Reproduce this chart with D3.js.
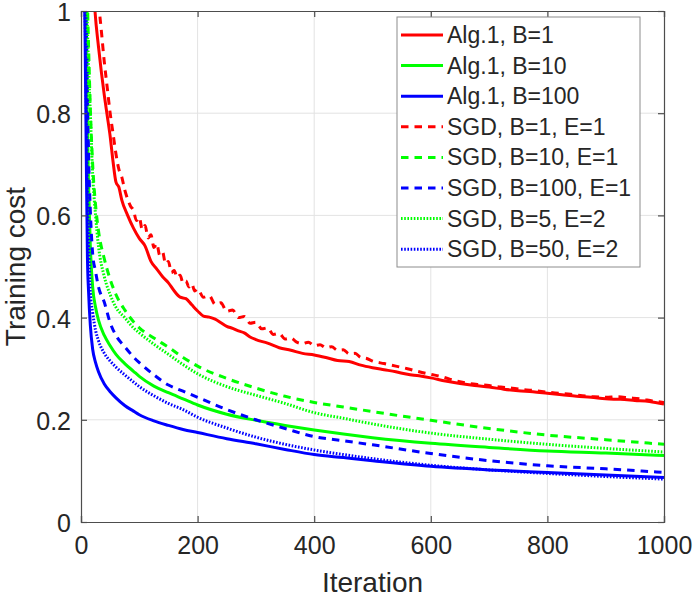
<!DOCTYPE html>
<html>
<head>
<meta charset="utf-8">
<script src="https://cdn.jsdelivr.net/npm/d3@7"></script>
<style>
  body { margin: 0; background: #fff; }
  text { font-family: "Liberation Sans", Arial, sans-serif; fill: #262626; }
</style>
</head>
<body>
<script>

// chart data
var xTicks = [0, 200, 400, 600, 800, 1000];
var yTicks = [0, 0.2, 0.4, 0.6, 0.8, 1];

var itersSmooth = [1, 5, 7, 9, 11, 13, 16, 20, 25, 30, 40, 50, 60, 75, 90, 100, 125, 150, 175, 200, 250, 300, 350, 400, 450, 500, 600, 700, 800, 900, 1000];

var alg1B10 = [1.7, 1.2, 1.05, 0.9, 0.78, 0.66, 0.54, 0.46, 0.42, 0.395, 0.365, 0.345, 0.328, 0.31, 0.295, 0.285, 0.266, 0.253, 0.241, 0.229, 0.211, 0.199, 0.189, 0.18, 0.172, 0.165, 0.154, 0.146, 0.139, 0.135, 0.13];
var alg1B100 = [1.5, 1.1, 0.95, 0.72, 0.52, 0.45, 0.385, 0.338, 0.312, 0.294, 0.27, 0.255, 0.243, 0.228, 0.217, 0.21, 0.198, 0.189, 0.181, 0.175, 0.163, 0.153, 0.142, 0.132, 0.126, 0.12, 0.109, 0.102, 0.097, 0.092, 0.087];
var sgdB10E1 = [2.0, 1.4, 1.25, 1.12, 1.02, 0.93, 0.81, 0.7, 0.62, 0.57, 0.515, 0.475, 0.445, 0.415, 0.392, 0.38, 0.36, 0.342, 0.322, 0.305, 0.281, 0.262, 0.246, 0.234, 0.225, 0.216, 0.199, 0.183, 0.17, 0.161, 0.152];
var sgdB100E1 = [1.7, 1.2, 1.08, 0.98, 0.85, 0.72, 0.61, 0.525, 0.49, 0.46, 0.43, 0.39, 0.365, 0.343, 0.323, 0.312, 0.288, 0.268, 0.256, 0.244, 0.22, 0.2, 0.183, 0.167, 0.159, 0.151, 0.134, 0.12, 0.11, 0.104, 0.097];
var sgdB5E2 = [2.0, 1.3, 1.18, 1.08, 0.97, 0.89, 0.8, 0.68, 0.6, 0.54, 0.48, 0.445, 0.42, 0.4, 0.38, 0.37, 0.348, 0.328, 0.308, 0.29, 0.265, 0.248, 0.232, 0.214, 0.203, 0.192, 0.174, 0.162, 0.152, 0.144, 0.137];
var sgdB50E2 = [1.6, 1.15, 1.0, 0.82, 0.65, 0.55, 0.45, 0.41, 0.375, 0.355, 0.33, 0.315, 0.303, 0.288, 0.274, 0.265, 0.247, 0.232, 0.22, 0.205, 0.184, 0.166, 0.152, 0.141, 0.132, 0.124, 0.111, 0.102, 0.095, 0.089, 0.084];

var itersAlg1B1 = [20, 24, 30, 35, 40, 45, 50, 55, 60, 65, 70, 80, 90, 100, 110, 120, 130, 140, 150, 160, 170, 180, 190, 200, 210, 220, 230, 240, 250, 260, 270, 280, 290, 300, 320, 340, 360, 380, 400, 420, 440, 460, 480, 500, 520, 540, 560, 580, 600, 625, 650, 675, 700, 725, 750, 775, 800, 825, 850, 875, 900, 925, 950, 975, 1000];
var alg1B1 = [1.08, 1.0, 0.93, 0.88, 0.835, 0.795, 0.755, 0.705, 0.665, 0.655, 0.63, 0.6, 0.575, 0.555, 0.54, 0.51, 0.495, 0.48, 0.468, 0.452, 0.44, 0.437, 0.425, 0.413, 0.403, 0.401, 0.397, 0.39, 0.383, 0.379, 0.374, 0.37, 0.362, 0.357, 0.35, 0.341, 0.336, 0.33, 0.327, 0.322, 0.316, 0.314, 0.307, 0.302, 0.298, 0.294, 0.289, 0.286, 0.282, 0.276, 0.271, 0.267, 0.264, 0.26, 0.257, 0.255, 0.252, 0.249, 0.246, 0.244, 0.241, 0.24, 0.238, 0.236, 0.231];

var itersSgdB1 = [20, 25, 30, 35, 40, 45, 50, 55, 60, 65, 70, 75, 80, 85, 90, 95, 100, 105, 110, 115, 120, 125, 130, 135, 140, 145, 150, 155, 160, 165, 170, 175, 180, 185, 190, 195, 200, 210, 220, 230, 240, 250, 260, 270, 280, 290, 300, 310, 320, 330, 340, 350, 360, 370, 380, 390, 400, 410, 420, 430, 440, 450, 460, 470, 480, 490, 500, 520, 540, 560, 580, 600, 620, 640, 660, 680, 700, 720, 740, 760, 780, 800, 820, 840, 860, 880, 900, 920, 940, 960, 980, 1000];
var sgdB1E1 = [1.2, 1.1, 1.02, 0.96, 0.9, 0.85, 0.8, 0.76, 0.72, 0.69, 0.675, 0.65, 0.632, 0.618, 0.61, 0.59, 0.596, 0.572, 0.58, 0.556, 0.562, 0.537, 0.545, 0.522, 0.528, 0.505, 0.51, 0.488, 0.492, 0.478, 0.483, 0.468, 0.472, 0.46, 0.466, 0.452, 0.456, 0.44, 0.443, 0.426, 0.429, 0.412, 0.415, 0.4, 0.402, 0.389, 0.391, 0.378, 0.38, 0.367, 0.369, 0.358, 0.36, 0.352, 0.349, 0.352, 0.345, 0.347, 0.341, 0.343, 0.336, 0.337, 0.329, 0.33, 0.322, 0.32, 0.315, 0.31, 0.305, 0.3, 0.294, 0.289, 0.284, 0.277, 0.272, 0.269, 0.267, 0.264, 0.262, 0.259, 0.257, 0.254, 0.252, 0.25, 0.247, 0.245, 0.244, 0.245, 0.243, 0.241, 0.237, 0.234];

var seriesNames = ["Alg.1, B=1", "Alg.1, B=10", "Alg.1, B=100", "SGD, B=1, E=1", "SGD, B=10, E=1", "SGD, B=100, E=1", "SGD, B=5, E=2", "SGD, B=50, E=2"];

// series table built from the arrays above
var series = [
  { name: seriesNames[0], x: itersAlg1B1, y: alg1B1, color: "#ff0000", dash: null },
  { name: seriesNames[1], x: itersSmooth, y: alg1B10, color: "#00ff00", dash: null },
  { name: seriesNames[2], x: itersSmooth, y: alg1B100, color: "#0000ff", dash: null },
  { name: seriesNames[3], x: itersSgdB1, y: sgdB1E1, color: "#ff0000", dash: "7.5,6" },
  { name: seriesNames[4], x: itersSmooth, y: sgdB10E1, color: "#00ff00", dash: "7.5,6" },
  { name: seriesNames[5], x: itersSmooth, y: sgdB100E1, color: "#0000ff", dash: "7.5,6" },
  { name: seriesNames[6], x: itersSmooth, y: sgdB5E2, color: "#00ff00", dash: "1.6,1.6" },
  { name: seriesNames[7], x: itersSmooth, y: sgdB50E2, color: "#0000ff", dash: "1.6,1.6" }
];

var width = 693, height = 600;
var margin = { left: 81, right: 29, top: 11, bottom: 78 };
var plotW = width - margin.left - margin.right;
var plotH = height - margin.top - margin.bottom;

var svg = d3.select("body").append("svg")
  .attr("width", width).attr("height", height);

var x = d3.scaleLinear().domain([0, 1000]).range([0, plotW]);
var y = d3.scaleLinear().domain([0, 1]).range([plotH, 0]);

var g = svg.append("g").attr("transform", "translate(" + margin.left + "," + margin.top + ")");

// grid
g.append("g").selectAll("line").data(xTicks.slice(1, -1)).enter().append("line")
  .attr("x1", function(d) { return x(d); }).attr("x2", function(d) { return x(d); })
  .attr("y1", 0).attr("y2", plotH)
  .attr("stroke", "#e3e3e3").attr("stroke-width", 1);
g.append("g").selectAll("line").data(yTicks.slice(1, -1)).enter().append("line")
  .attr("y1", function(d) { return y(d); }).attr("y2", function(d) { return y(d); })
  .attr("x1", 0).attr("x2", plotW)
  .attr("stroke", "#e3e3e3").attr("stroke-width", 1);

// curves
svg.append("clipPath").attr("id", "clip")
  .append("rect").attr("width", plotW).attr("height", plotH);

var line = d3.line()
  .x(function(d) { return x(d[0]); })
  .y(function(d) { return y(d[1]); })
  .curve(d3.curveMonotoneX);

g.append("g").attr("clip-path", "url(#clip)")
  .selectAll("path").data(series).enter().append("path")
  .attr("d", function(s) { return line(d3.zip(s.x, s.y)); })
  .attr("fill", "none")
  .attr("stroke", function(s) { return s.color; })
  .attr("stroke-width", 3)
  .attr("stroke-dasharray", function(s) { return s.dash; });

// axes, ticks pointing inward like matlab
var axisColor = "#4d4d4d";
var xAxis = g.append("g").attr("transform", "translate(0," + plotH + ")")
  .call(d3.axisBottom(x).tickValues(xTicks).tickSize(-6).tickPadding(14).tickFormat(d3.format("d")));
var yAxis = g.append("g")
  .call(d3.axisLeft(y).tickValues(yTicks).tickSize(-6).tickPadding(10).tickFormat(function(d) { return d3.format("")(d); }));
var xTop = g.append("g").call(d3.axisTop(x).tickValues(xTicks).tickSize(-6).tickFormat(""));
var yRight = g.append("g").attr("transform", "translate(" + plotW + ",0)")
  .call(d3.axisRight(y).tickValues(yTicks).tickSize(-6).tickFormat(""));

[xAxis, yAxis, xTop, yRight].forEach(function(a) {
  a.select(".domain").attr("stroke", axisColor).attr("stroke-width", 1.2);
  a.selectAll(".tick line").attr("stroke", axisColor).attr("stroke-width", 1.2);
  a.selectAll("text").style("font-size", "25px").style("font-family", "Liberation Sans, Arial, sans-serif").attr("fill", "#262626");
});
xAxis.selectAll("text").attr("dy", "0.71em");
yAxis.selectAll("text").attr("dy", "0.38em");

// axis labels
svg.append("text")
  .attr("x", margin.left + plotW / 2).attr("y", 592)
  .attr("text-anchor", "middle").style("font-size", "28px")
  .text("Iteration");
svg.append("text")
  .attr("transform", "translate(25," + (margin.top + plotH / 2) + ") rotate(-90)")
  .attr("text-anchor", "middle").style("font-size", "28px")
  .text("Training cost");

// legend
var legend = svg.append("g").attr("transform", "translate(397,17)");
legend.append("rect")
  .attr("width", 243).attr("height", 250)
  .attr("fill", "#fff").attr("stroke", "#8c8c8c").attr("stroke-width", 1);

var rows = legend.selectAll("g.row").data(series).enter().append("g")
  .attr("class", "row")
  .attr("transform", function(s, i) { return "translate(0," + (18 + i * 30.6) + ")"; });
rows.append("line")
  .attr("x1", 4).attr("x2", 46).attr("y1", 0).attr("y2", 0)
  .attr("stroke", function(s) { return s.color; })
  .attr("stroke-width", 3)
  .attr("stroke-dasharray", function(s) { return s.dash; });
rows.append("text")
  .attr("x", 50).attr("y", 0).attr("dy", "0.35em")
  .style("font-size", "23px")
  .text(function(s) { return s.name; });

</script>
</body>
</html>
